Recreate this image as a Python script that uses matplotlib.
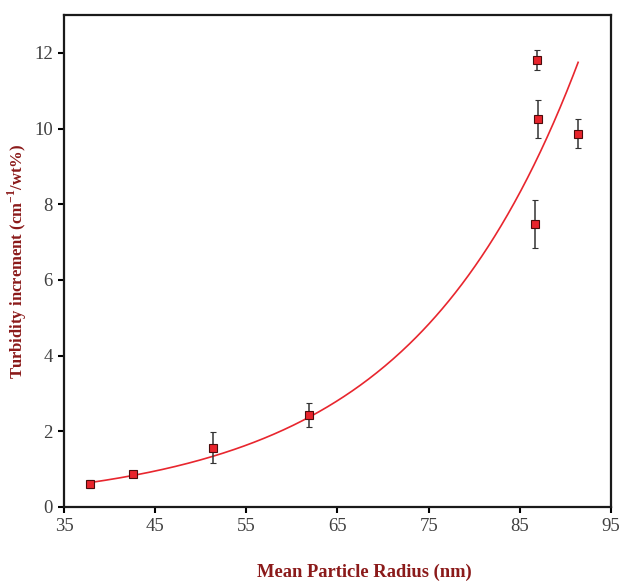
import numpy as np
import matplotlib
matplotlib.use("Agg")
import matplotlib.pyplot as plt

plt.rcParams['font.family'] = ['Liberation Serif', 'DejaVu Serif']
plt.rcParams['mathtext.fontset'] = 'custom'
plt.rcParams['mathtext.rm'] = 'Liberation Serif'
plt.rcParams['mathtext.bf'] = 'Liberation Serif:bold'

# measured radius (nm), turbidity increment and its standard deviation
radius = [37.8, 42.6, 51.3, 61.9, 86.9, 87.0, 86.7, 91.4]
turbidity = [0.60, 0.86, 1.56, 2.43, 11.81, 10.25, 7.47, 9.86]
turbidity_err = [0.10, 0.04, 0.41, 0.32, 0.27, 0.50, 0.64, 0.38]

# exponential trend y = A * exp(B * r)
fit_A = 0.0829
fit_B = 0.0542
fit_range = (37.7, 91.4)

label_color = '#8b1a1a'
tick_color = '#404040'

fig = plt.figure(figsize=(6.19, 5.81), dpi=100)
ax = fig.add_axes([0.1034, 0.1274, 0.8836, 0.8468])

r = np.linspace(fit_range[0], fit_range[1], 300)
ax.plot(r, fit_A * np.exp(fit_B * r), color='#e8262e', lw=1.2, zorder=2)

ax.errorbar(radius, turbidity, yerr=turbidity_err, fmt='s', ms=6,
            mfc='#e8242c', mec='#4a0c0c', mew=0.8, ecolor='#333333',
            elinewidth=1.1, capsize=2.2, capthick=1.1, zorder=3)

ax.set_xlim(35, 95)
ax.set_ylim(0, 13)
ax.set_xticks(range(35, 96, 10))
ax.set_yticks(range(0, 13, 2))
ax.tick_params(direction='out', length=4, width=1.5, labelsize=13.5,
               labelcolor=tick_color, top=False, right=False, pad=4)
for s in ax.spines.values():
    s.set_linewidth(1.6)
    s.set_color('#1a1a1a')

ax.set_xlabel('Mean Particle Radius (nm)', fontsize=13.3, fontweight='bold',
              color=label_color)
ax.set_ylabel(r'Turbidity increment (cm$^{\mathbf{-1}}$/wt%)', fontsize=12,
              fontweight='bold', color=label_color)
ax.xaxis.set_label_coords(0.549, -0.132)
ax.xaxis.label.set_va('center')
ax.yaxis.set_label_coords(-0.086, 0.50)
ax.yaxis.label.set_va('center')

fig.savefig('out.png', dpi=100)
